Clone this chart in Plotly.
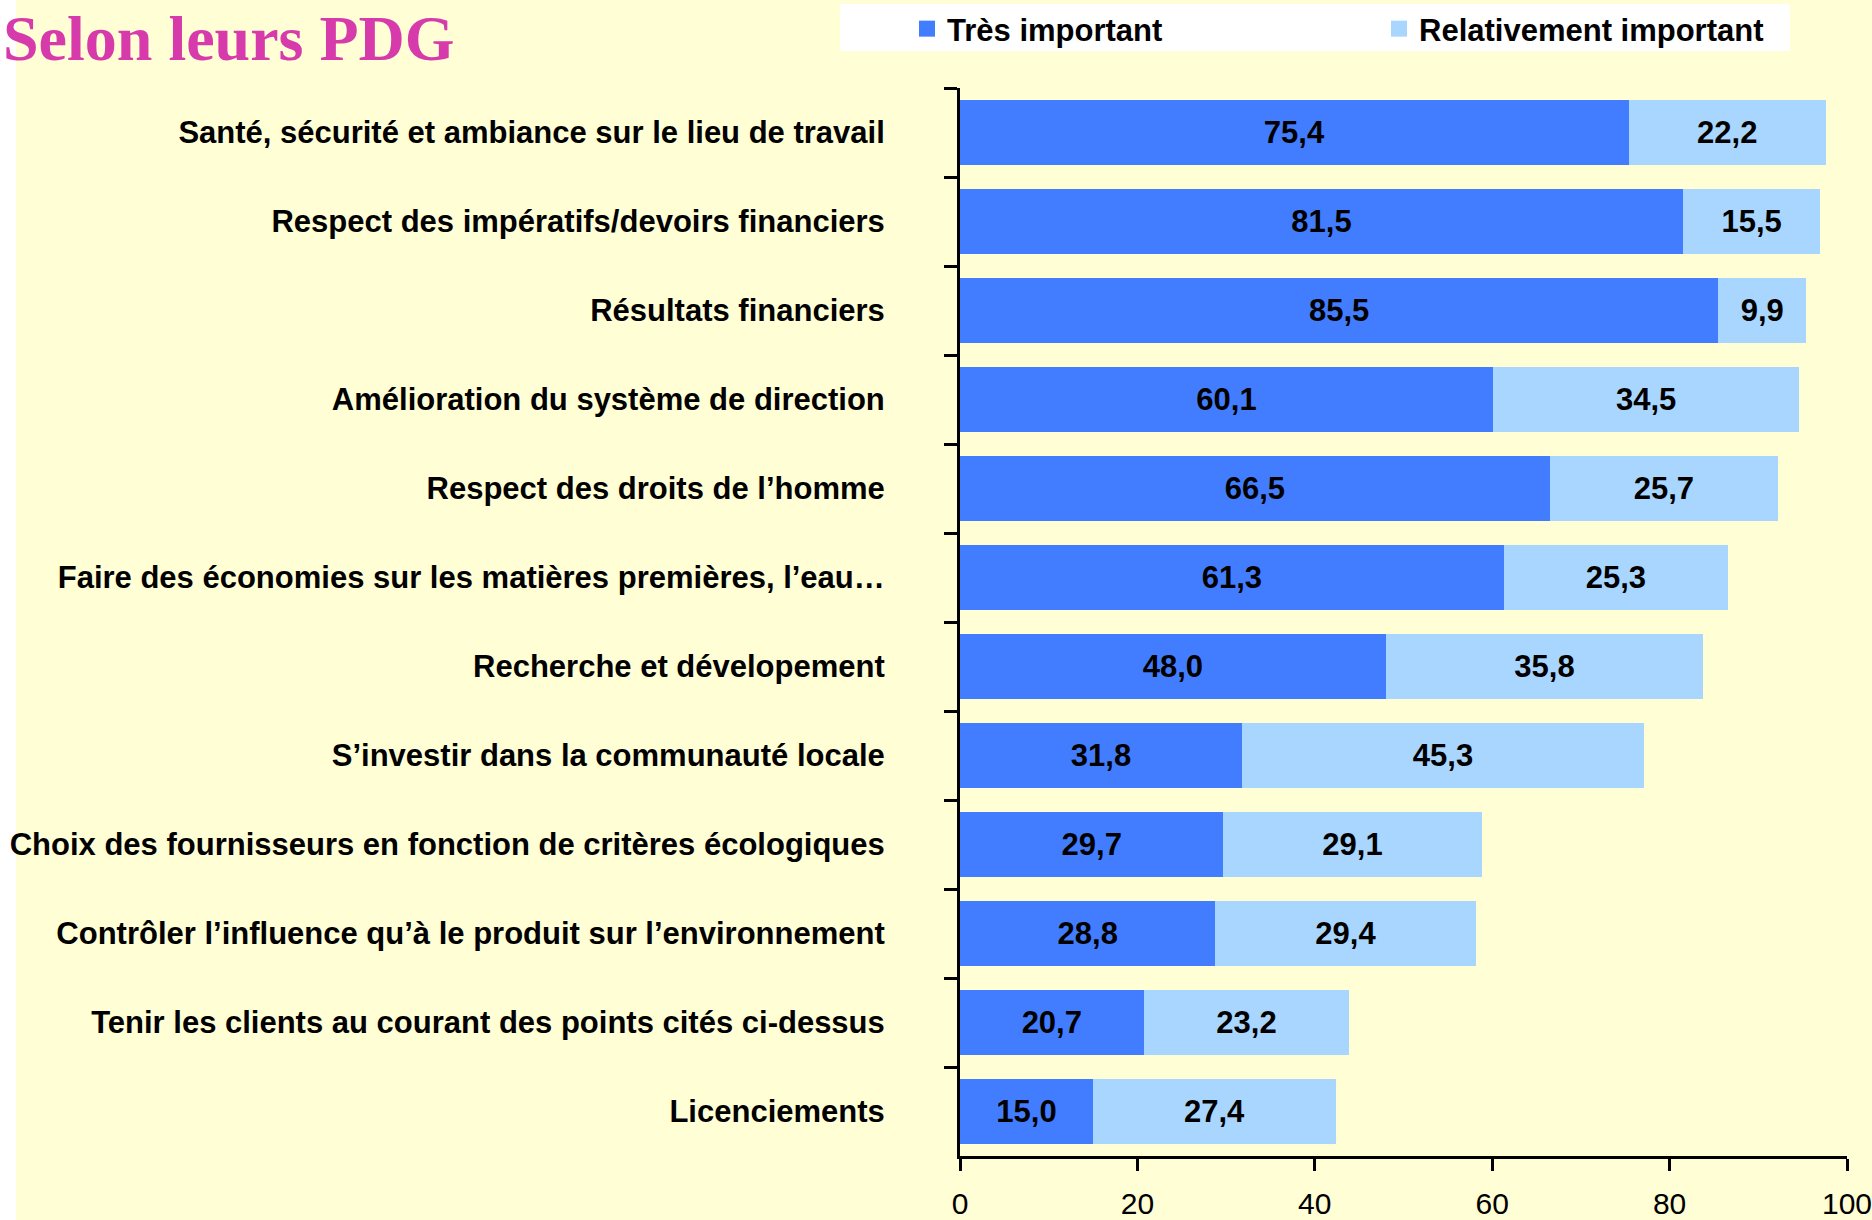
import plotly.graph_objects as go

categories = [
    "Santé, sécurité et ambiance sur le lieu de travail",
    "Respect des impératifs/devoirs financiers",
    "Résultats financiers",
    "Amélioration du système de direction",
    "Respect des droits de l’homme",
    "Faire des économies sur les matières premières, l’eau…",
    "Recherche et dévelopement",
    "S’investir dans la communauté locale",
    "Choix des fournisseurs en fonction de critères écologiques",
    "Contrôler l’influence qu’à le produit sur l’environnement",
    "Tenir les clients au courant des points cités ci-dessus",
    "Licenciements",
]
tres_important = [75.4, 81.5, 85.5, 60.1, 66.5, 61.3, 48.0, 31.8, 29.7, 28.8, 20.7, 15.0]
relativement_important = [22.2, 15.5, 9.9, 34.5, 25.7, 25.3, 35.8, 45.3, 29.1, 29.4, 23.2, 27.4]
series_names = ["Très important", "Relativement important"]
x_ticks = [0, 20, 40, 60, 80, 100]

BG = "#FFFED5"
DARK = "#437DFF"
LIGHT = "#A9D6FE"
FONT = "Liberation Sans"

W, H = 1872, 1220
L, R, T, B = 960, 25, 88, 64
pw, ph = W - L - R, H - T - B

def px_x(px):
    return (px - L) / pw

def px_y(py):
    return 1 - (py - T) / ph

bar_text = dict(family=FONT, size=31, color="black", weight="bold")

fig = go.Figure()
for vals, name, color, leg in [
    (tres_important, series_names[0], DARK, "legend"),
    (relativement_important, series_names[1], LIGHT, "legend2"),
]:
    fig.add_trace(go.Bar(
        y=categories, x=vals, orientation="h", name=name, showlegend=False,
        marker=dict(color=color, line=dict(width=0)),
        texttemplate="%{x:.1f}", textposition="inside", insidetextanchor="middle",
        textangle=0, textfont=bar_text,
    ))
    # legend entry with a square swatch
    fig.add_trace(go.Scatter(
        x=[None], y=[None], mode="markers", name=name, legend=leg,
        marker=dict(symbol="square", size=22, color=color, line=dict(width=0)),
        hoverinfo="skip",
    ))

legend_font = dict(family=FONT, size=31, color="black", weight="bold")

fig.update_layout(
    width=W, height=H,
    margin=dict(l=L, r=R, t=T, b=B, autoexpand=False),
    paper_bgcolor=BG, plot_bgcolor=BG,
    barmode="stack", bargap=0.27,
    separators=", ",
    font=dict(family=FONT, color="black"),
    showlegend=True,
    legend=dict(
        orientation="h", xref="container", yref="container",
        x=907 / W, y=1 - 2 / H, xanchor="left", yanchor="top",
        bgcolor="rgba(0,0,0,0)", borderwidth=0, font=legend_font,
        itemsizing="trace",
    ),
    legend2=dict(
        orientation="h", xref="container", yref="container",
        x=1379 / W, y=1 - 2 / H, xanchor="left", yanchor="top",
        bgcolor="rgba(0,0,0,0)", borderwidth=0, font=legend_font,
        itemsizing="trace",
    ),
    xaxis=dict(
        range=[0, 100], tickvals=x_ticks, showgrid=False, zeroline=False,
        showline=True, linecolor="black", linewidth=3,
        ticks="outside", ticklen=12, tickwidth=3, tickcolor="black",
        tickfont=dict(family=FONT, size=30, color="black"),
        ticklabelstandoff=7, ticklabeloverflow="allow",
    ),
    yaxis=dict(
        categoryorder="array", categoryarray=categories, autorange="reversed",
        showgrid=False, zeroline=False,
        showline=True, linecolor="black", linewidth=3,
        ticks="outside", ticklen=13, tickwidth=3, tickcolor="black",
        tickson="boundaries",
        tickfont=dict(family=FONT, size=31, color="black", weight="bold"),
        ticklabelstandoff=66,
    ),
    shapes=[
        dict(type="rect", xref="paper", yref="paper",
             x0=px_x(840), x1=px_x(1790), y0=px_y(51), y1=px_y(4),
             fillcolor="white", line=dict(width=0), layer="below"),
        dict(type="rect", xref="paper", yref="paper",
             x0=px_x(0), x1=px_x(16), y0=px_y(H + 10), y1=px_y(-10),
             fillcolor="white", line=dict(width=0), layer="below"),
    ],
    annotations=[
        dict(text="Selon leurs PDG", xref="paper", yref="paper",
             x=px_x(1), y=px_y(39), xanchor="left", yanchor="middle",
             showarrow=False,
             font=dict(family="Liberation Serif", size=64, color="#D63AAB", weight="bold")),
    ],
)

fig.write_html(
    "out.html",
    config={"displayModeBar": False},
    post_script="document.body.style.margin='0';document.body.style.background='" + BG + "';",
)
